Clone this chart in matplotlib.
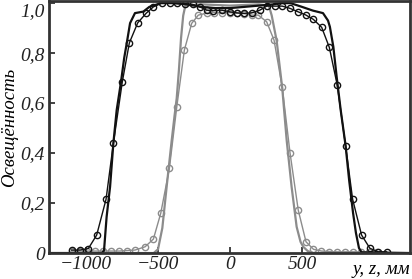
import matplotlib
matplotlib.use("Agg")
import matplotlib.pyplot as plt

# black solid curve (no markers)
blk_x = [-1250, -890, -875, -857, -833, -810, -787, -757, -735, -717, -694, -660, -602,
         -560, -480, -400, -300, -200, -100, 0, 100, 200, 300, 350, 420, 500, 576, 646,
         681, 694, 718, 741, 769, 803, 828, 855, 875, 896, 914, 1250]
blk_y = [0, 0, 0.01, 0.145, 0.265, 0.44, 0.572, 0.685, 0.78, 0.84, 0.92, 0.96, 0.966,
         0.985, 1.0, 1.0, 0.995, 0.985, 0.98, 0.98, 0.985, 0.99, 0.995, 1.0, 1.0, 0.985,
         0.97, 0.96, 0.93, 0.905, 0.825, 0.705, 0.572, 0.43, 0.29, 0.16, 0.08, 0.02, 0.003, 0]

# black curve with markers
blkm_x = [-1100, -1042, -984, -926, -861, -810, -748, -699, -641, -583, -532, -474, -420,
          -365, -310, -260, -210, -162, -116, -58, 0, 46, 97, 151, 208, 255, 312, 363,
          417, 474, 528, 579, 637, 690, 745, 803, 852, 914, 972, 1030, 1088]
blkm_y = [0.012, 0.012, 0.018, 0.072, 0.215, 0.439, 0.685, 0.841, 0.921, 0.959, 0.985,
          1.0, 1.0, 1.0, 0.998, 0.995, 0.985, 0.972, 0.97, 0.972, 0.965, 0.961, 0.959,
          0.961, 0.972, 0.988, 0.988, 0.988, 0.979, 0.965, 0.952, 0.935, 0.903, 0.823,
          0.672, 0.429, 0.215, 0.072, 0.019, 0.005, 0.005]

# gray solid curve (no markers)
gry_x = [-1250, -530, -500, -470, -440, -405, -385, -370, -355, -340, -325, -310, -200,
         0, 200, 270, 290, 324, 363, 394, 428, 463, 490, 509, 540, 580, 1250]
gry_y = [0, 0, 0.015, 0.1, 0.265, 0.45, 0.55, 0.62, 0.73, 0.86, 0.95, 0.99, 0.995,
         0.99, 0.995, 0.99, 0.95, 0.85, 0.66, 0.45, 0.265, 0.105, 0.045, 0.025, 0.008, 0, 0]

# gray curve with markers
grym_x = [-1100, -1045, -990, -935, -880, -825, -770, -715, -660, -590, -532, -481, -421,
          -370, -317, -266, -220, -162, -110, -58, 0, 46, 97, 151, 197, 255, 306, 363,
          417, 474, 528, 580, 635, 690, 745, 800, 855, 910, 965, 1020]
grym_y = [0.008, 0.008, 0.008, 0.008, 0.008, 0.008, 0.008, 0.01, 0.012, 0.025, 0.056,
          0.159, 0.339, 0.583, 0.812, 0.919, 0.952, 0.96, 0.962, 0.962, 0.962, 0.96,
          0.958, 0.952, 0.952, 0.925, 0.852, 0.663, 0.401, 0.172, 0.045, 0.015, 0.008,
          0.006, 0.005, 0.005, 0.005, 0.005, 0.005, 0.005]

x_ticks = [-1000, -500, 0, 500]
x_labels = ["\u22121000", "\u2212500", "0", "500"]
y_ticks = [0, 0.2, 0.4, 0.6, 0.8, 1.0]
y_labels = ["0", "0,2", "0,4", "0,6", "0,8", "1,0"]

plt.rcParams['font.family'] = ['Liberation Serif', 'DejaVu Serif']

fig = plt.figure(figsize=(4.12, 2.79), dpi=100)
ax = fig.add_axes([0.119, 0.093, 0.876, 0.903])

gray = '#8c8c8c'
ax.plot(gry_x, gry_y, color=gray, lw=1.6)
ax.plot(grym_x, grym_y, color=gray, lw=1.0, marker='o', ms=4.5, mfc='none', mec=gray, mew=1.0)
ax.plot(blk_x, blk_y, color='#111111', lw=1.6)
ax.plot(blkm_x, blkm_y, color='#111111', lw=1.0, marker='o', ms=4.5, mfc='none', mec='#111111', mew=1.0)

ax.set_xlim(-1257, 1250)
ax.set_ylim(0, 1.008)
ax.set_xticks(x_ticks)
ax.set_xticklabels(x_labels, fontstyle='italic', fontsize=14)
ax.set_yticks(y_ticks)
ax.set_yticklabels(y_labels, fontstyle='italic', fontsize=14)
ax.tick_params(direction='in', length=4, width=1.2, pad=3, colors='#222222')
ax.tick_params(axis='x', pad=2)
# top label sits just below the frame
ax.get_yticklabels()[-1].set_verticalalignment('top')
for s in ax.spines.values():
    s.set_linewidth(2.0)
    s.set_color('#333333')

ax.set_ylabel("Освещённость", fontstyle='italic', fontsize=13.5, labelpad=2)
ax.text(1.0, -0.03, "y, z, мм", transform=ax.transAxes, ha='right', va='top',
        fontstyle='italic', fontsize=13.5)

fig.savefig("out.png", dpi=100)
